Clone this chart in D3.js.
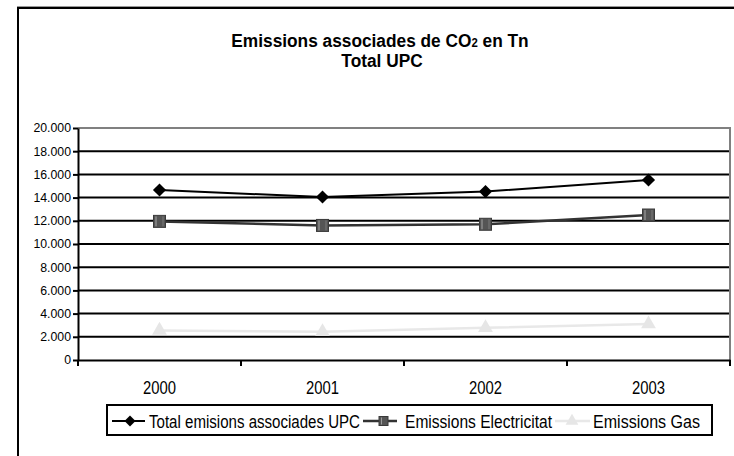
<!DOCTYPE html>
<html><head><meta charset="utf-8">
<script src="https://cdn.jsdelivr.net/npm/d3@7"></script>
<style>html,body{margin:0;padding:0;background:#fff;} svg{display:block;font-family:"Liberation Sans",Arial,sans-serif;}</style>
</head><body>
<script>
const years = ["2000","2001","2002","2003"];
const totalValues = [14650, 14050, 14520, 15520];
const electricitatValues = [11950, 11600, 11700, 12500];
const gasValues = [2550, 2430, 2780, 3100];
const yTicks = [0,2000,4000,6000,8000,10000,12000,14000,16000,18000,20000];
const seriesNames = ["Total emisions associades UPC","Emissions Electricitat","Emissions Gas"];

(function(){
const W = 734, H = 456;
const svg = d3.select("body").append("svg").attr("width", W).attr("height", H);

// outer frame
svg.append("line").attr("x1",17).attr("x2",W).attr("y1",6.5).attr("y2",6.5).attr("stroke","#999").attr("stroke-width",1);
svg.append("path").attr("d",`M18,${H} L18,8 L${W},8`).attr("fill","none").attr("stroke","#000").attr("stroke-width",2);

const pL = 78, pR = 730, pT = 128, pB = 360;
const x = d3.scaleBand().domain(years).range([pL, pR]);
const y = d3.scaleLinear().domain([0,20000]).range([pB, pT]);

// gridlines
svg.append("g").selectAll("line").data(yTicks.filter(d=>d>0 && d<20000)).join("line")
  .attr("x1",pL).attr("x2",pR).attr("y1",d=>y(d)).attr("y2",d=>y(d))
  .attr("stroke","#000").attr("stroke-width",2);
// plot border top/right gray
svg.append("path").attr("d",`M${pL},${y(20000)} L${pR},${y(20000)} L${pR},${pB}`)
  .attr("fill","none").attr("stroke","#808080").attr("stroke-width",2);

// y axis
const fmt = d => d===0 ? "0" : d3.format(",")(d).replace(/,/g,".");
const yAxis = svg.append("g").attr("transform",`translate(${pL},0)`)
  .call(d3.axisLeft(y).tickValues(yTicks).tickFormat(fmt).tickSize(5).tickSizeOuter(0));
yAxis.select(".domain").attr("stroke","#000").attr("stroke-width",2);
yAxis.selectAll(".tick line").attr("stroke","#000").attr("stroke-width",2);
yAxis.selectAll(".tick text").attr("x",-7).attr("font-size","12.3px").attr("fill","#000").attr("font-family","Liberation Sans, Arial, sans-serif");

// x axis
const xAxis = svg.append("g").attr("transform",`translate(0,${pB})`)
  .call(d3.axisBottom(x).tickSize(0).tickSizeOuter(0));
xAxis.select(".domain").attr("stroke","#000").attr("stroke-width",2);
xAxis.selectAll(".tick text").attr("dy",0).attr("y",34).attr("font-size","17.5px").attr("fill","#000")
  .attr("font-family","Liberation Sans, Arial, sans-serif").attr("textLength",33).attr("lengthAdjust","spacingAndGlyphs");
// category boundary ticks
const bounds = years.map(d=>x(d)).concat([pR]);
svg.append("g").selectAll("line").data(bounds).join("line")
  .attr("x1",d=>d).attr("x2",d=>d).attr("y1",pB).attr("y2",pB+6)
  .attr("stroke","#000").attr("stroke-width",2);

const cx = d => x(d) + x.bandwidth()/2;
const lineGen = vals => d3.line().x((d,i)=>cx(years[i])).y(d=>y(d))(vals);

// gas
svg.append("path").attr("d",lineGen(gasValues)).attr("fill","none").attr("stroke","#e8e8e8").attr("stroke-width",2.5);
svg.append("g").selectAll("path").data(gasValues).join("path")
  .attr("d",d3.symbol(d3.symbolTriangle,95)()).attr("transform",(d,i)=>`translate(${cx(years[i])},${y(d)})`)
  .attr("fill","#e6e6e6");
// electricitat
svg.append("path").attr("d",lineGen(electricitatValues)).attr("fill","none").attr("stroke","#333").attr("stroke-width",2.5);
const sq = svg.append("g").selectAll("g").data(electricitatValues).join("g")
  .attr("transform",(d,i)=>`translate(${cx(years[i])},${y(d)})`);
sq.append("rect").attr("x",-6).attr("y",-6).attr("width",12).attr("height",12)
  .attr("fill","#555").attr("stroke","#3a3a3a").attr("stroke-width",1);
sq.append("line").attr("x1",-3.5).attr("x2",-3.5).attr("y1",-5).attr("y2",5).attr("stroke","#bbb").attr("stroke-width",0.8);
sq.append("line").attr("x1",3.5).attr("x2",3.5).attr("y1",-5).attr("y2",5).attr("stroke","#999").attr("stroke-width",0.6);
// total
svg.append("path").attr("d",lineGen(totalValues)).attr("fill","none").attr("stroke","#000").attr("stroke-width",2);
svg.append("g").selectAll("path").data(totalValues).join("path")
  .attr("d",d3.symbol(d3.symbolSquare,86)()).attr("transform",(d,i)=>`translate(${cx(years[i])},${y(d)}) rotate(45)`)
  .attr("fill","#000");

// title (horizontally condensed like the reference)
const t1 = svg.append("text").attr("transform","translate(380,46.5) scale(0.91,1)")
  .attr("text-anchor","middle").attr("font-size","19px").attr("font-weight","bold");
t1.append("tspan").text("Emissions associades de CO");
t1.append("tspan").attr("font-size","12.5px").text("2");
t1.append("tspan").text(" en Tn");
svg.append("text").attr("transform","translate(382,67) scale(0.91,1)").attr("text-anchor","middle")
  .attr("font-size","19px").attr("font-weight","bold").text("Total UPC");

// legend
const lg = svg.append("g");
lg.append("rect").attr("x",107).attr("y",405).attr("width",605).attr("height",30).attr("fill","#fff").attr("stroke","#000").attr("stroke-width",2);
const ly = 421;
lg.append("line").attr("x1",112).attr("x2",145).attr("y1",ly).attr("y2",ly).attr("stroke","#000").attr("stroke-width",2);
lg.append("path").attr("d",d3.symbol(d3.symbolSquare,60)()).attr("transform",`translate(130,${ly}) rotate(45)`).attr("fill","#000");
lg.append("line").attr("x1",363).attr("x2",397).attr("y1",ly).attr("y2",ly).attr("stroke","#333").attr("stroke-width",2.5);
lg.append("rect").attr("x",379).attr("y",ly-4.5).attr("width",9).attr("height",9).attr("fill","#555").attr("stroke","#3a3a3a");
lg.append("line").attr("x1",381.5).attr("x2",381.5).attr("y1",ly-3.5).attr("y2",ly+3.5).attr("stroke","#bbb").attr("stroke-width",0.7);
lg.append("line").attr("x1",555).attr("x2",590).attr("y1",ly).attr("y2",ly).attr("stroke","#e8e8e8").attr("stroke-width",2.5);
lg.append("path").attr("d",d3.symbol(d3.symbolTriangle,70)()).attr("transform",`translate(572,${ly})`).attr("fill","#e6e6e6");
const textX = [149, 405, 593];
const textW = [211, 147, 107];
lg.selectAll("text.l").data(seriesNames).join("text").attr("class","l")
  .attr("x",(d,i)=>textX[i]).attr("y",428).attr("font-size","17.5px")
  .attr("textLength",(d,i)=>textW[i]).attr("lengthAdjust","spacingAndGlyphs").text(d=>d);
})();
</script>
</body></html>
